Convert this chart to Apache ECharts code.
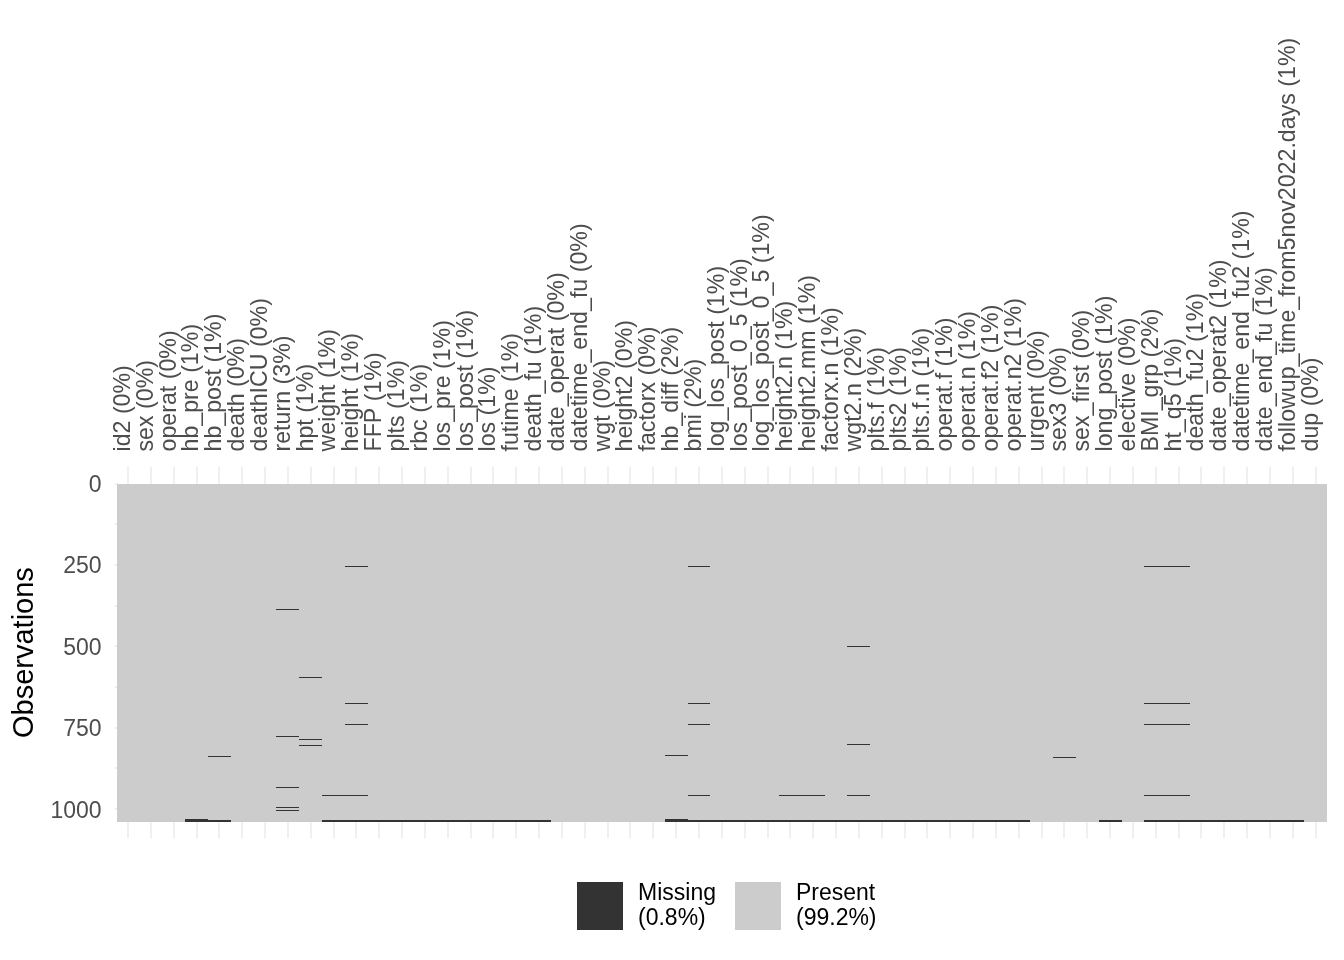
<!DOCTYPE html>
<html><head><meta charset="utf-8">
<script src="https://cdn.jsdelivr.net/npm/echarts@6/dist/echarts.min.js"></script>
<style>html,body{margin:0;padding:0;background:#fff}#chart{width:1344px;height:960px}</style>
</head><body><div id="chart"></div>
<script>
// ---- data ----
const columns = ['id2','sex','operat','hb_pre','hb_post','death','deathICU','return','hpt','weight','height','FFP','plts','rbc','los_pre','los_post','los','futime','death_fu','date_operat','datetime_end_fu','wgt','height2','factorx','hb_diff','bmi','log_los_post','los_post_0_5','log_los_post_0_5','height2.n','height2.mm','factorx.n','wgt2.n','plts.f','plts2','plts.f.n','operat.f','operat.n','operat.f2','operat.n2','urgent','sex3','sex_first','long_post','elective','BMI_grp','ht_q5','death_fu2','date_operat2','datetime_end_fu2','date_end_fu','followup_time_from5nov2022.days','dup'];
const missingPct = ['0%','0%','0%','1%','1%','0%','0%','3%','1%','1%','1%','1%','1%','1%','1%','1%','1%','1%','1%','0%','0%','0%','0%','0%','2%','2%','1%','1%','1%','1%','1%','1%','2%','1%','1%','1%','1%','1%','1%','1%','0%','0%','0%','1%','0%','2%','1%','1%','1%','1%','1%','1%','0%'];
const nRows = 1038;
const yTicks = [0, 250, 500, 750, 1000];
// missing runs: [column, first row, last row]
const missingRuns = [
  ['hb_pre',1031,1038],
  ['hb_post',837,837],['hb_post',1034,1038],
  ['return',386,386],['return',776,776],['return',933,933],['return',995,995],['return',1004,1004],
  ['hpt',595,595],['hpt',786,786],['hpt',804,804],
  ['weight',957,957],['weight',1034,1038],
  ['height',254,254],['height',675,675],['height',740,740],['height',957,957],['height',1034,1038],
  ['FFP',1034,1038],['plts',1034,1038],['rbc',1034,1038],['los_pre',1034,1038],['los_post',1034,1038],['los',1034,1038],['futime',1034,1038],['death_fu',1034,1038],
  ['hb_diff',835,835],['hb_diff',1031,1038],
  ['bmi',254,254],['bmi',675,675],['bmi',740,740],['bmi',958,958],['bmi',1034,1038],
  ['log_los_post',1034,1038],['los_post_0_5',1034,1038],['log_los_post_0_5',1034,1038],
  ['height2.n',958,958],['height2.n',1034,1038],
  ['height2.mm',958,958],['height2.mm',1034,1038],
  ['factorx.n',1034,1038],
  ['wgt2.n',500,500],['wgt2.n',801,801],['wgt2.n',958,958],['wgt2.n',1034,1038],
  ['plts.f',1034,1038],['plts2',1034,1038],['plts.f.n',1034,1038],['operat.f',1034,1038],['operat.n',1034,1038],['operat.f2',1034,1038],['operat.n2',1034,1038],
  ['sex3',841,841],
  ['long_post',1034,1038],
  ['BMI_grp',254,254],['BMI_grp',675,675],['BMI_grp',740,740],['BMI_grp',958,958],['BMI_grp',1034,1038],
  ['ht_q5',254,254],['ht_q5',675,675],['ht_q5',740,740],['ht_q5',958,958],['ht_q5',1034,1038],
  ['death_fu2',1034,1038],['date_operat2',1034,1038],['datetime_end_fu2',1034,1038],['date_end_fu',1034,1038],['followup_time_from5nov2022.days',1034,1038]
];
const legendLabels = {Missing: 'Missing\n(0.8%)', Present: 'Present\n(99.2%)'};

// ---- chart ----
const MISSING_COLOR = '#333333', PRESENT_COLOR = '#CCCCCC', GRID_COLOR = '#EBEBEB';
const FONT = 'Liberation Sans, Arial, sans-serif';

function cellRect(api, color) {
  const c = api.value(0);
  const w = api.size([1, 0])[0];
  const p0 = api.coord([c, api.value(1) - 0.5]);
  const p1 = api.coord([c, api.value(2) + 0.5]);
  const x0 = Math.round(p0[0] - w / 2), x1 = Math.round(p0[0] + w / 2);
  let y0 = Math.round(p0[1]), y1 = Math.round(p1[1]);
  if (y1 - y0 < 1) y1 = y0 + 1;
  return {type: 'rect', shape: {x: x0, y: y0, width: x1 - x0, height: y1 - y0}, style: {fill: color}};
}

const pad = 0.05 * nRows;
const chart = echarts.init(document.getElementById('chart'), null, {renderer: 'canvas'});
chart.setOption({
  backgroundColor: '#ffffff',
  animation: false,
  grid: {left: 116.6, right: 16.9, top: 483.5, bottom: 138.3},
  xAxis: {
    type: 'category', position: 'top', data: columns, boundaryGap: true,
    axisLine: {show: false}, axisTick: {show: false}, splitLine: {show: false},
    axisLabel: {
      interval: 0, rotate: 90, margin: 32, fontSize: 23.2, color: '#4D4D4D', fontFamily: FONT,
      verticalAlign: 'bottom', lineHeight: 9,
      formatter: (v, i) => v + ' (' + missingPct[i] + ')'
    }
  },
  yAxis: {
    type: 'value', inverse: true, min: 0, max: nRows + 0.5, interval: 250,
    axisLine: {show: false}, axisTick: {show: false}, splitLine: {show: false},
    axisLabel: {
      margin: 15, fontSize: 23, color: '#4D4D4D', fontFamily: FONT, showMaxLabel: false,
      verticalAlign: 'top', lineHeight: 4,
      formatter: v => (yTicks.indexOf(v) >= 0 ? String(v) : '')
    },
    name: 'Observations', nameLocation: 'middle', nameRotate: 90, nameGap: 74,
    nameTextStyle: {fontSize: 29, color: '#000000', fontFamily: FONT}
  },
  legend: [
    {data: ['Missing'], left: 577, top: 877, padding: 0, icon: 'rect', itemWidth: 46, itemHeight: 48,
     formatter: n => legendLabels[n], selectedMode: false,
     textStyle: {fontSize: 23, lineHeight: 25, color: '#000', fontFamily: FONT, padding: [8, 0, 0, 10]}},
    {data: ['Present'], left: 735, top: 877, padding: 0, icon: 'rect', itemWidth: 46, itemHeight: 48,
     formatter: n => legendLabels[n], selectedMode: false,
     textStyle: {fontSize: 23, lineHeight: 25, color: '#000', fontFamily: FONT, padding: [8, 0, 0, 10]}}
  ],
  series: [
    { // vertical grid stubs
      type: 'custom', name: 'gridV', silent: true, clip: false, z: 1,
      data: columns.map((c, i) => [i]),
      renderItem: (params, api) => {
        const a = api.coord([api.value(0), 0.5 - pad]);
        const b = api.coord([api.value(0), nRows + 0.5 + pad]);
        const x = Math.round(a[0]);
        return {type: 'line', shape: {x1: x, y1: a[1], x2: x, y2: b[1]}, style: {stroke: GRID_COLOR, lineWidth: 1.5}};
      }
    },
    { // horizontal grid stubs (left)
      type: 'custom', name: 'gridH', silent: true, clip: false, z: 1,
      data: [0, 125, 250, 375, 500, 625, 750, 875, 1000].map(v => [v]),
      renderItem: (params, api) => {
        const w = api.size([1, 0])[0];
        const p = api.coord([0, api.value(0)]);
        const y = Math.round(p[1]);
        return {type: 'line', shape: {x1: p[0] - 0.6 * w, y1: y, x2: p[0] - 0.5 * w + 1, y2: y}, style: {stroke: GRID_COLOR, lineWidth: 1.5}};
      }
    },
    {
      type: 'custom', name: 'Present', clip: false, z: 2,
      itemStyle: {color: PRESENT_COLOR},
      data: columns.map((c, i) => [i, 1, nRows]),
      renderItem: (params, api) => cellRect(api, PRESENT_COLOR)
    },
    {
      type: 'custom', name: 'Missing', clip: false, z: 3,
      itemStyle: {color: MISSING_COLOR},
      data: missingRuns.map(r => [columns.indexOf(r[0]), r[1], r[2]]),
      renderItem: (params, api) => cellRect(api, MISSING_COLOR)
    }
  ]
});
</script></body></html>
